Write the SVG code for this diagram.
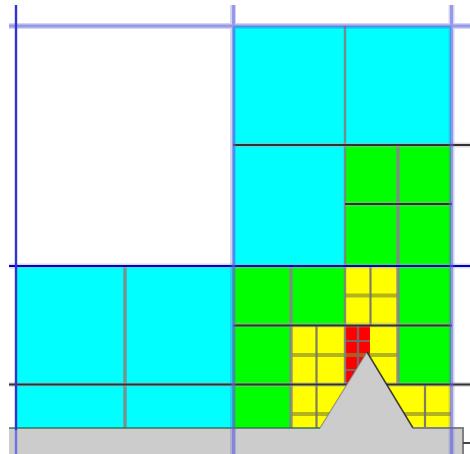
<svg xmlns="http://www.w3.org/2000/svg" width="470" height="454" viewBox="0 0 470 454">
<defs>
<style>
.cy{fill:#00ffff}.gr{fill:#00ff00}.ye{fill:#ffff00}.re{fill:#ff0000}
.g3{stroke:#858585;stroke-width:3.4;fill:none;opacity:.9}
.g2{stroke:#808080;stroke-width:2.4;fill:none;opacity:.9}
.g1{stroke:#707070;stroke-width:2.200;fill:none;opacity:.9}
.band{stroke:#8a8a30;stroke-width:4;fill:none;opacity:.65}
.dk{stroke:#333;stroke-width:2;fill:none}
.halo{stroke:#aaa;stroke-width:5;fill:none;opacity:.4}
.bb{stroke:#6666cc;stroke-width:6;fill:none;opacity:.28}
.bm{stroke:#5a5ae6;stroke-width:3;fill:none;opacity:.5}
</style>
<filter id="soft" x="0" y="0" width="100%" height="100%"><feGaussianBlur stdDeviation="0.6"/></filter>
</defs>
<rect width="470" height="454" fill="#ffffff"/>
<g filter="url(#soft)">
<rect class="cy" x="233" y="26" width="218" height="240"/>
<rect class="cy" x="16" y="266" width="217" height="164"/>
<rect class="gr" x="345" y="145" width="106" height="121"/>
<rect class="gr" x="233" y="266" width="218" height="164"/>
<rect class="ye" x="345" y="266" width="53" height="118"/>
<rect class="ye" x="291" y="325" width="54" height="105"/>
<rect class="ye" x="345" y="384" width="53" height="46"/>
<rect class="ye" x="398" y="384" width="53" height="46"/>
<rect class="re" x="345" y="325" width="25" height="59"/>
<g>
<path class="band" d="M345 295.500H398M291 355H398M291 414H345M398 414H451"/>
<path class="g1" d="M370.500 266V325M316.500 325V430M425 384V430M358 325V384M345 341H370M345 370H370"/>
<path class="g3" d="M125 266V430M291 266V430M398 145V384"/>
<path class="g2" d="M345 26V384"/>
<path class="halo" d="M233 145H470M345 204H452M233 325H452M9 384.500H470M9 266H470"/>
<path class="dk" d="M233 145H470M345 204H452M233 325.500H452M9 384.500H470"/>
<path d="M9 266H470" stroke="#0000cc" stroke-width="2" fill="none"/>
</g>
<g id="ground">
<path d="M9 454V428H320L367 352L413 428H463V454Z" fill="#cccccc"/>
<path d="M9 428H320" stroke="#2f6f50" stroke-width="2" fill="none" opacity=".7"/>
<path d="M320 428L367 352" stroke="#777" stroke-width="1.300" fill="none" opacity=".7"/>
<path d="M367 352L413 428" stroke="#222" stroke-width="1.500" fill="none" opacity=".85"/>
<path d="M413 428H463V454" stroke="#808080" stroke-width="2" fill="none"/>
<path d="M463 443H470" stroke="#444" stroke-width="2" fill="none"/>
</g>
<g>
<path class="bb" d="M9 26H470M233 5V454M451.500 5V454"/>
<path class="bm" d="M233.500 5V454M451.500 5V454M9 26H470"/>
<path d="M16 5V430" stroke="#3030cc" stroke-width="2.400" fill="none"/>
<path d="M16 430V454" stroke="#7070e0" stroke-width="2.400" fill="none"/>
</g>
</g>
</svg>
